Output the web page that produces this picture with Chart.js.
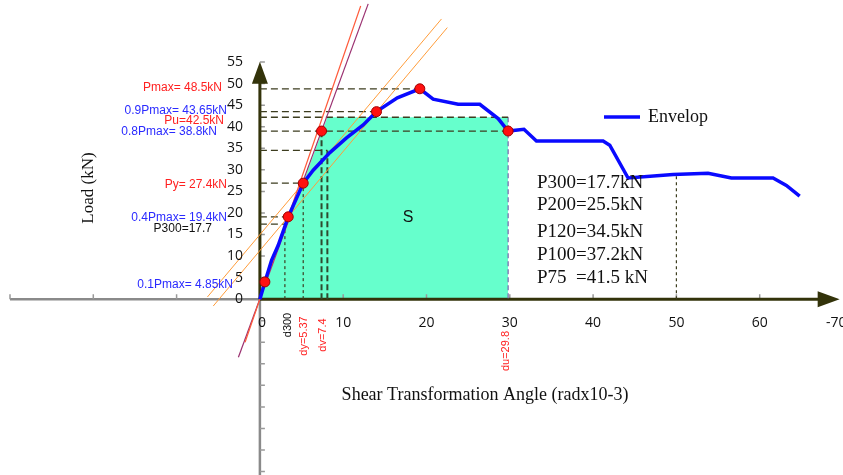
<!DOCTYPE html>
<html>
<head>
<meta charset="utf-8">
<script src="https://cdn.jsdelivr.net/npm/chart.js@4.4.1/dist/chart.umd.min.js"></script>
<style>
  html, body { margin: 0; padding: 0; background: #fff; }
  #wrap { width: 843px; height: 475px; }
</style>
</head>
<body>
<div id="wrap"><canvas id="chart-envelope"></canvas></div>
<script>
// Envelope curve (shear angle x10^-3 rad, load kN)
const envelopeX = [0, 0.6, 1.4, 2.2, 3.4, 5.2, 6.4, 8.4, 10.4, 12.4, 14.0, 16.5, 19.2, 20.8, 23.8, 26.4, 28.6, 29.8, 31.7, 33.2, 41.2, 42.0, 44.2, 49.6, 53.8, 56.6, 61.6, 63.2, 64.8];
const envelopeY = [0, 4.0, 9.0, 12.5, 19.1, 26.9, 29.9, 34.0, 37.4, 40.4, 43.5, 46.7, 48.8, 46.4, 45.2, 45.2, 41.9, 39.0, 39.4, 36.7, 36.7, 35.7, 28.1, 28.9, 29.2, 28.1, 28.1, 26.4, 23.9];

// Characteristic points (0.1Pmax, 0.4Pmax, Py, Pu, 0.9Pmax, Pmax, du)
const keyX = [0.6, 3.4, 5.2, 7.4, 14.0, 19.2, 29.8];
const keyY = [4.0, 19.1, 26.9, 39.0, 43.5, 48.8, 39.0];

// Equivalent area S
const areaX = [0, 8.1, 29.8, 29.8];
const areaY = [0, 42.2, 42.2, 0];

// Construction lines (two end points each)
const secantRedX = [-1.78, 12.1];
const secantRedY = [-10, 68];
const secantPurpleX = [-2.58, 13.0];
const secantPurpleY = [-13.5, 68.5];
const parallelAX = [-6.3, 21.8];
const parallelAY = [0.5, 65];
const parallelBX = [-5.6, 22.5];
const parallelBY = [-1.6, 63];

// Horizontal guide levels and where they stop
const guideLevel = [48.8, 43.5, 42.2, 39.0, 34.5, 26.9, 19.1, 17.4];
const guideEnd = [19.2, 14.0, 29.8, 29.8, 8.1, 5.2, 3.4, 3.0];
// Vertical drops to the axis
const dropX = [3.0, 5.2, 50];
const dropTop = [17.4, 26.9, 28.9];
const yieldDropX = [7.4, 8.1];
const yieldDropTop = [39.0, 34.5];

// Axis ticks
const xTickValues = [0, 10, 20, 30, 40, 50, 60, 69.2];
const xTickLabels = ["0", "10", "20", "30", "40", "50", "60", "-70"];
const yTickValues = [0, 5, 10, 15, 20, 25, 30, 35, 40, 45, 50, 55];

const pts = (xs, ys) => xs.map((x, i) => ({ x: x, y: ys[i] }));

const datasets = [];
datasets.push({
    label: "Envelop", data: pts(envelopeX, envelopeY), showLine: true,
    borderColor: "#0a0aff", borderWidth: 3.5, pointRadius: 0, order: 1
});
datasets.push({
    label: "points", data: pts(keyX, keyY), showLine: false,
    pointRadius: 5, backgroundColor: "#ff1010", borderColor: "#a00000", borderWidth: 1, order: 0
});
datasets.push({ data: pts(secantRedX, secantRedY), showLine: true, borderColor: "#ff5a3a", borderWidth: 1.2, pointRadius: 0, order: 2 });
datasets.push({ data: pts(secantPurpleX, secantPurpleY), showLine: true, borderColor: "#9a3070", borderWidth: 1.2, pointRadius: 0, order: 2 });
datasets.push({ data: pts(parallelAX, parallelAY), showLine: true, borderColor: "#ff9c3a", borderWidth: 1, pointRadius: 0, order: 2 });
datasets.push({ data: pts(parallelBX, parallelBY), showLine: true, borderColor: "#ff9c3a", borderWidth: 1, pointRadius: 0, order: 2 });
guideLevel.forEach((y, i) => {
    datasets.push({ data: [{ x: 0, y: y }, { x: guideEnd[i], y: y }], showLine: true,
        borderColor: "#3d3d1f", borderWidth: 1.3, borderDash: [7, 4], pointRadius: 0, order: 3 });
});
dropX.forEach((x, i) => {
    datasets.push({ data: [{ x: x, y: 0 }, { x: x, y: dropTop[i] }], showLine: true,
        borderColor: "#3d3d1f", borderWidth: 1.2, borderDash: [3, 3], pointRadius: 0, order: 3 });
});
yieldDropX.forEach((x, i) => {
    datasets.push({ data: [{ x: x, y: 0 }, { x: x, y: yieldDropTop[i] }], showLine: true,
        borderColor: "#2f4a2f", borderWidth: 2, borderDash: [6, 3], pointRadius: 0, order: 3 });
});
datasets.push({ data: [{ x: areaX[2], y: areaY[2] }, { x: areaX[3], y: areaY[3] }], showLine: true,
    borderColor: "#7a70b0", borderWidth: 1.3, borderDash: [5, 3], pointRadius: 0, order: 3 });
const areaIndex = datasets.length;
datasets.push({
    label: "S", data: pts(areaX, areaY), showLine: true, fill: "origin",
    backgroundColor: "#66ffcc", borderWidth: 0, pointRadius: 0, order: 9
});

const axesPlugin = {
    id: "axes",
    afterDatasetDraw(chart, args) {
        if (args.index !== areaIndex) return;
        const ctx = chart.ctx, sx = chart.scales.x, sy = chart.scales.y;
        const x0 = sx.getPixelForValue(0), y0 = sy.getPixelForValue(0);
        ctx.save();
        // negative parts, grey
        ctx.strokeStyle = "#8a8a8a"; ctx.lineWidth = 2.5;
        ctx.beginPath();
        ctx.moveTo(sx.getPixelForValue(-30), y0); ctx.lineTo(x0, y0);
        ctx.moveTo(x0, y0); ctx.lineTo(x0, sy.getPixelForValue(-41));
        ctx.stroke();
        ctx.lineWidth = 1.5; ctx.strokeStyle = "#999";
        ctx.beginPath();
        [-30, -20, -10, 10, 20, 30, 40, 50, 60].forEach(v => {
            const p = sx.getPixelForValue(v);
            ctx.moveTo(p, y0); ctx.lineTo(p, y0 - 5);
        });
        for (let v = -40; v <= 55; v += 5) {
            if (v === 0) continue;
            const p = sy.getPixelForValue(v);
            ctx.moveTo(x0, p); ctx.lineTo(x0 + 5, p);
        }
        ctx.stroke();
        // positive parts, dark olive with arrows
        const xt = sx.getPixelForValue(69.6), yt = sy.getPixelForValue(55.1);
        ctx.strokeStyle = "#33330a"; ctx.fillStyle = "#33330a"; ctx.lineWidth = 3;
        ctx.beginPath();
        ctx.moveTo(x0, y0); ctx.lineTo(xt - 10, y0);
        ctx.moveTo(x0, y0); ctx.lineTo(x0, yt + 10);
        ctx.stroke();
        ctx.beginPath();
        ctx.moveTo(xt, y0); ctx.lineTo(xt - 22, y0 - 8); ctx.lineTo(xt - 22, y0 + 8); ctx.closePath();
        ctx.moveTo(x0, yt); ctx.lineTo(x0 - 8, yt + 22); ctx.lineTo(x0 + 8, yt + 22); ctx.closePath();
        ctx.fill();
        ctx.restore();
    },
    afterDraw(chart) {
        const ctx = chart.ctx, sx = chart.scales.x, sy = chart.scales.y;
        const x0 = sx.getPixelForValue(0), y0 = sy.getPixelForValue(0);
        ctx.save();
        // tick labels
        ctx.fillStyle = "#111";
        ctx.font = "14px 'Open Sans'";
        ctx.textAlign = "right"; ctx.textBaseline = "middle";
        yTickValues.forEach(v => ctx.fillText(String(v), x0 - 17, sy.getPixelForValue(v)));
        ctx.textAlign = "center";
        xTickValues.forEach((v, i) => ctx.fillText(xTickLabels[i], sx.getPixelForValue(v) + (i === 0 ? 2 : 0), y0 + 24));
        // axis titles
        ctx.font = "18px 'Liberation Serif'";
        ctx.fillText("Shear Transformation Angle (radx10-3)", 485, 395);
        ctx.save();
        ctx.translate(89, 188); ctx.rotate(-Math.PI / 2);
        ctx.font = "17px 'Liberation Serif'";
        ctx.fillText("Load (kN)", 0, 0);
        ctx.restore();
        // legend
        ctx.strokeStyle = "#0a0aff"; ctx.lineWidth = 3.5;
        ctx.beginPath(); ctx.moveTo(604, 117); ctx.lineTo(640, 117); ctx.stroke();
        ctx.textAlign = "left"; ctx.fillStyle = "#111";
        ctx.fillText("Envelop", 648, 117);
        // stiffness results
        ctx.font = "19px 'Liberation Serif'";
        [["P300=17.7kN", 183], ["P200=25.5kN", 205], ["P120=34.5kN", 232], ["P100=37.2kN", 255], ["P75  =41.5 kN", 278]]
            .forEach(t => ctx.fillText(t[0], 537, t[1]));
        // area label
        ctx.font = "16px 'Liberation Sans'";
        ctx.textAlign = "center";
        ctx.fillText("S", 408, 218);
        // characteristic load labels
        ctx.textAlign = "right";
        ctx.font = "12px 'Liberation Sans'";
        const red = "#ff2020", blue = "#2a2aff";
        [["Pmax= 48.5kN", 222, 88, red], ["0.9Pmax= 43.65kN", 227, 111, blue], ["Pu=42.5kN", 224, 121, red],
         ["0.8Pmax= 38.8kN", 217, 132, blue], ["Py= 27.4kN", 227, 185, red], ["0.4Pmax= 19.4kN", 227, 218, blue],
         ["P300=17.7", 212, 229, "#111"], ["0.1Pmax= 4.85kN", 233, 285, blue]]
            .forEach(t => { ctx.fillStyle = t[3]; ctx.fillText(t[0], t[1], t[2]); });
        // displacement labels, rotated
        ctx.textAlign = "center";
        ctx.font = "11px 'Liberation Sans'";
        [["d300", 288, 325, "#111"], ["dy=5.37", 304, 336, red], ["dv=7.4", 323, 335, red], ["du=29.8", 506, 351, red]]
            .forEach(t => {
                ctx.save(); ctx.translate(t[1], t[2]); ctx.rotate(-Math.PI / 2);
                ctx.fillStyle = t[3]; ctx.fillText(t[0], 0, 0); ctx.restore();
            });
        ctx.restore();
    }
};

new Chart(document.getElementById("chart-envelope"), {
    type: "scatter",
    data: { datasets: datasets },
    options: {
        responsive: true,
        maintainAspectRatio: false,
        animation: false,
        layout: { padding: 0, autoPadding: false },
        elements: { line: { tension: 0 } },
        scales: {
            x: { type: "linear", min: -31.2, max: 70, display: false },
            y: { type: "linear", min: -40.8, max: 69.4, display: false }
        },
        plugins: { legend: { display: false }, tooltip: { enabled: false } }
    },
    plugins: [axesPlugin]
});
</script>
</body>
</html>
